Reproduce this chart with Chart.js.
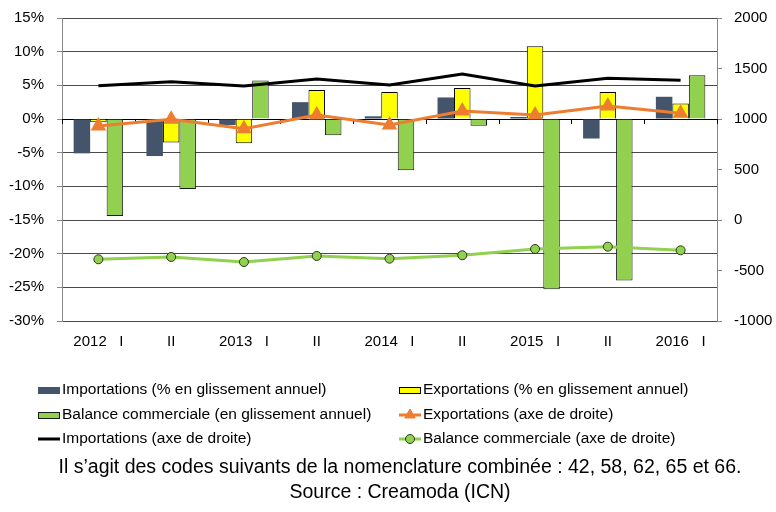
<!DOCTYPE html>
<html>
<head>
<meta charset="utf-8">
<script src="https://cdn.jsdelivr.net/npm/chart.js@4"></script>
<style>
  body { margin: 0; background: #fff; }
  #wrap { width: 776px; height: 512px; }
</style>
</head>
<body>
<div id="wrap"><canvas id="tradeChart" width="776" height="512"></canvas></div>
<script>
// categories (semesters)
var periods = ['2012   I', 'II', '2013   I', 'II', '2014   I', 'II', '2015   I', 'II', '2016   I'];

// left axis, % year on year
var importsPct = [-5.1, -5.5, -0.9, 2.5, 0.4, 3.2, 0.3, -2.9, 3.3];
var exportsPct = [-0.5, -3.5, -3.6, 4.3, 4.0, 4.6, 10.8, 4.0, 2.3];
var balancePct = [-14.4, -10.4, 5.7, -2.4, -7.6, -1.0, -25.3, -24.0, 6.5];

// right axis, levels
var exportsLvl = [930, 997, 904, 1040, 940, 1080, 1040, 1129, 1056];
var importsLvl = [1330, 1369, 1327, 1396, 1337, 1445, 1327, 1403, 1383];
var balanceLvl = [-389, -366, -416, -356, -383, -349, -287, -264, -300];

var leftTicks = [-30, -25, -20, -15, -10, -5, 0, 5, 10, 15];
var rightTicks = [-1000, -500, 0, 500, 1000, 1500, 2000];

var note = ['Il s\u2019agit des codes suivants de la nomenclature combinée : 42, 58, 62, 65 et 66.',
            'Source : Creamoda (ICN)'];

var FONT = '"Liberation Sans", Arial, sans-serif';

// zero line ticks + 2 column legend + footnote
var extras = {
    id: 'extras',
    beforeDatasetsDraw: function(chart) {
        var ctx = chart.ctx, area = chart.chartArea;
        var y0 = chart.scales.y.getPixelForValue(0);
        var n = periods.length, w = (area.right - area.left) / n;
        ctx.save();
        ctx.strokeStyle = '#000';
        ctx.lineWidth = 1;
        ctx.beginPath();
        for (var i = 0; i <= n; i++) {
            var x = Math.round(area.left + i * w) + 0.5;
            ctx.moveTo(x, y0);
            ctx.lineTo(x, y0 + 5);
        }
        ctx.stroke();
        ctx.restore();
    },
    afterDraw: function(chart) {
        var ctx = chart.ctx;
        var ds = chart.data.datasets;
        var colX = [38, 399], rowY = [390, 415, 439];
        ctx.save();
        ctx.font = '15.5px ' + FONT;
        ctx.textBaseline = 'middle';
        ctx.textAlign = 'left';
        ds.forEach(function(d, i) {
            var x = colX[i % 2], y = rowY[Math.floor(i / 2)];
            if (d.type === 'bar') {
                ctx.fillStyle = d.backgroundColor;
                ctx.fillRect(x, y - 3, 22, 7);
                if (d.borderWidth) {
                    ctx.strokeStyle = d.borderColor;
                    ctx.lineWidth = 1;
                    ctx.strokeRect(x + 0.5, y - 2.5, 21, 6);
                }
            } else {
                ctx.strokeStyle = d.borderColor;
                ctx.lineWidth = 3;
                ctx.beginPath();
                ctx.moveTo(x, y);
                ctx.lineTo(x + 22, y);
                ctx.stroke();
                if (d.pointRadius) {
                    ctx.fillStyle = d.pointBackgroundColor;
                    ctx.strokeStyle = d.pointBorderColor;
                    ctx.lineWidth = 1;
                    Chart.helpers.drawPoint(ctx, {
                        pointStyle: d.pointStyle, radius: d.pointRadius, rotation: 0, borderWidth: 1
                    }, x + 11, y);
                }
            }
            ctx.fillStyle = '#000';
            ctx.fillText(d.label, x + 24, y);
        });
        ctx.font = '19.5px ' + FONT;
        ctx.textAlign = 'center';
        ctx.fillText(note[0], 400, 468);
        ctx.fillText(note[1], 400, 493);
        ctx.restore();
    }
};

var ctx = document.getElementById('tradeChart').getContext('2d');
var tradeChart = new Chart(ctx, {
    type: 'bar',
    data: {
        labels: periods,
        datasets: [{
            type: 'bar',
            label: 'Importations (% en glissement annuel)',
            data: importsPct,
            backgroundColor: '#44546A',
            borderWidth: 0,
            yAxisID: 'y',
            order: 2
        }, {
            type: 'bar',
            label: 'Exportations (% en glissement annuel)',
            data: exportsPct,
            backgroundColor: '#FFFF00',
            borderColor: '#000',
            borderWidth: 1,
            yAxisID: 'y',
            order: 2
        }, {
            type: 'bar',
            label: 'Balance commerciale (en glissement annuel)',
            data: balancePct,
            backgroundColor: '#92D050',
            borderColor: '#1a1a1a',
            borderWidth: 1,
            yAxisID: 'y',
            order: 2
        }, {
            type: 'line',
            label: 'Exportations (axe de droite)',
            data: exportsLvl,
            borderColor: '#ED7D31',
            borderWidth: 3,
            pointStyle: 'triangle',
            pointRadius: 6,
            pointBackgroundColor: '#ED7D31',
            pointBorderColor: '#ED7D31',
            tension: 0,
            yAxisID: 'y1',
            order: 1
        }, {
            type: 'line',
            label: 'Importations (axe de droite)',
            data: importsLvl,
            borderColor: '#000',
            borderWidth: 3,
            pointRadius: 0,
            tension: 0,
            yAxisID: 'y1',
            order: 1
        }, {
            type: 'line',
            label: 'Balance commerciale (axe de droite)',
            data: balanceLvl,
            borderColor: '#92D050',
            borderWidth: 3,
            pointStyle: 'circle',
            pointRadius: 4.5,
            pointBackgroundColor: '#92D050',
            pointBorderColor: '#2b3a1a',
            pointBorderWidth: 1,
            tension: 0,
            yAxisID: 'y1',
            order: 1
        }]
    },
    options: {
        responsive: false,
        animation: false,
        devicePixelRatio: 1,
        layout: { padding: { top: 18, left: 0, right: 0, bottom: 0 } },
        plugins: {
            legend: { display: false },
            tooltip: { enabled: false }
        },
        datasets: {
            bar: { categoryPercentage: 0.68, barPercentage: 1 }
        },
        scales: {
            x: {
                grid: { display: false, drawTicks: false },
                border: { display: false },
                ticks: { color: '#000', font: { family: FONT, size: 15 }, padding: 12, maxRotation: 0, autoSkip: false },
                afterFit: function(s) { s.height = 191; s.paddingLeft = 0; s.paddingRight = 0; }
            },
            y: {
                position: 'left',
                min: -30, max: 15,
                afterBuildTicks: function(s) { s.ticks = leftTicks.map(function(v) { return { value: v }; }); },
                grid: {
                    color: function(c) { return c.tick && c.tick.value === 0 ? '#000' : '#4a4a4a'; },
                    tickColor: '#888',
                    tickLength: 5
                },
                border: { color: '#888', width: 1 },
                ticks: {
                    color: '#000', font: { family: FONT, size: 15 }, padding: 13,
                    callback: function(v) { return v + '%'; }
                },
                afterFit: function(s) { s.width = 62; s.paddingTop = 0; s.paddingBottom = 0; }
            },
            y1: {
                position: 'right',
                min: -1000, max: 2000,
                afterBuildTicks: function(s) { s.ticks = rightTicks.map(function(v) { return { value: v }; }); },
                grid: { drawOnChartArea: false, tickColor: '#888', tickLength: 5 },
                border: { color: '#888', width: 1 },
                ticks: {
                    color: '#000', font: { family: FONT, size: 15 }, padding: 12,
                    callback: function(v) { return String(v); }
                },
                afterFit: function(s) { s.width = 59; s.paddingTop = 0; s.paddingBottom = 0; }
            }
        }
    },
    plugins: [extras]
});
</script>
</body>
</html>
